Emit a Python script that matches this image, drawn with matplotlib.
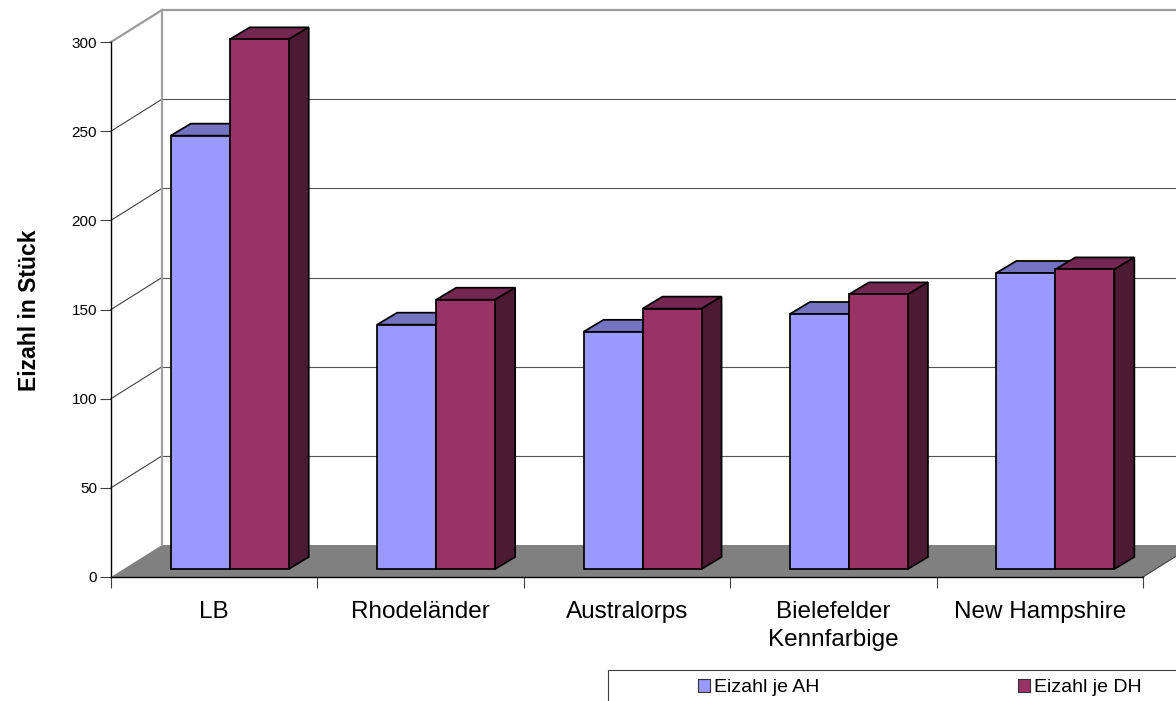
import matplotlib
matplotlib.use("Agg")
import matplotlib.pyplot as plt
from matplotlib.patches import Rectangle, Patch

plt.rcParams['font.family'] = ['Liberation Sans', 'DejaVu Sans']

categories = ["LB", "Rhodeländer", "Australorps", "Bielefelder\nKennfarbige", "New Hampshire"]
eggs_ah = [243, 137, 133, 143, 166]
eggs_dh = [297, 151, 146, 154, 168]
y_ticks = [0, 50, 100, 150, 200, 250, 300]
series_names = ["Eizahl je AH", "Eizahl je DH"]

W, H = 1176, 701
fig = plt.figure(figsize=(W / 100, H / 100), dpi=100, facecolor="white")
left, right, bottom, top = 111, 1143, 577, 42
ax = fig.add_axes([left / W, 1 - bottom / H, (right - left) / W, (bottom - top) / H])
ax.set_xlim(0, len(categories))
ax.set_ylim(0, 300)
ax.patch.set_visible(False)

# pixel-to-data factors for the oblique depth projection
px_x = len(categories) / (right - left)
px_y = 300 / (bottom - top)
wall_dx, wall_dy = 51 * px_x, 32 * px_y
n = len(categories)

# floor and walls
ax.fill([0, n, n + wall_dx, wall_dx], [0, 0, wall_dy, wall_dy],
        color="#808080", lw=0, zorder=1, clip_on=False)
for v in y_ticks[1:]:
    edge = "#9a9a9a" if v == 300 else "#404040"
    lw = 1.6 if v == 300 else 0.8
    ax.plot([0, wall_dx], [v, v + wall_dy], color=edge, lw=lw, zorder=1, clip_on=False)
    ax.plot([wall_dx, n + wall_dx], [v + wall_dy, v + wall_dy],
            color="#9a9a9a" if v == 300 else "#555555", lw=lw, zorder=1, clip_on=False)
ax.plot([wall_dx, wall_dx], [wall_dy, 300 + wall_dy], color="#a0a0a0", lw=1.6, zorder=1, clip_on=False)
ax.plot([n, n + wall_dx], [0, wall_dy], color="#404040", lw=0.8, zorder=1, clip_on=False)

# bars with their top and side faces
bar_x0, bar_w = 47 * px_x, 59 * px_x
front_dx, front_dy = 12.75 * px_x, 8 * px_y
depth_dx, depth_dy = 20 * px_x, 12 * px_y
styles = [("#9999FF", "#7373BF", "#4D4D80"), ("#993366", "#732650", "#4D1A33")]
edge_w = 1.25

for i in range(n):
    for j, values in enumerate((eggs_ah, eggs_dh)):
        face, upper, side = styles[j]
        x0 = i + front_dx + bar_x0 + j * bar_w
        x1 = x0 + bar_w
        y0 = front_dy
        y1 = front_dy + values[i]
        z = 3 + j
        ax.fill([x0, x1, x1 + depth_dx, x0 + depth_dx],
                [y1, y1, y1 + depth_dy, y1 + depth_dy],
                facecolor=upper, edgecolor="black", lw=edge_w, zorder=z, clip_on=False)
        ax.fill([x1, x1 + depth_dx, x1 + depth_dx, x1],
                [y0, y0 + depth_dy, y1 + depth_dy, y1],
                facecolor=side, edgecolor="black", lw=edge_w, zorder=z, clip_on=False)
        ax.bar(x0, values[i], width=bar_w, bottom=y0, align="edge",
               facecolor=face, edgecolor="black", lw=edge_w, zorder=z, clip_on=False)

# axes, ticks and labels
for name in ("top", "right"):
    ax.spines[name].set_visible(False)
for name in ("left", "bottom"):
    ax.spines[name].set_linewidth(1.0)
    ax.spines[name].set_zorder(6)

ax.set_yticks(y_ticks)
ax.tick_params(axis="y", length=8, width=0.8, labelsize=11, pad=2, color="#404040")
ax.set_xticks(range(n + 1))
ax.set_xticklabels([])
ax.tick_params(axis="x", which="major", length=8, width=0.8, color="#404040")
ax.set_xticks([i + 0.5 for i in range(n)], minor=True)
ax.set_xticklabels(categories, minor=True, fontsize=17.5, linespacing=1.38)
ax.tick_params(axis="x", which="minor", length=0, pad=17)

fig.text(30 / W, 1 - 310 / H, "Eizahl in Stück", rotation=90, fontsize=16.5,
         fontweight="bold", ha="center", va="center")

# legend box runs past the right edge of the figure
fig.add_artist(Rectangle((608 / W, -0.02), 600 / W, 1 - 670 / H + 0.02, transform=fig.transFigure,
                         facecolor="white", edgecolor="#404040", lw=0.8))
handles = [Patch(facecolor=styles[k][0], edgecolor="#333333", lw=0.8) for k in range(2)]
fig.legend(handles, series_names, ncol=2, frameon=False, loc="upper left",
           bbox_to_anchor=(698 / W, 1 - 679 / H), borderaxespad=0, borderpad=0,
           fontsize=14, handlelength=0.62, handleheight=0.62, handletextpad=0.2,
           columnspacing=10.2)

fig.savefig("out.png", dpi=100, facecolor="white")
